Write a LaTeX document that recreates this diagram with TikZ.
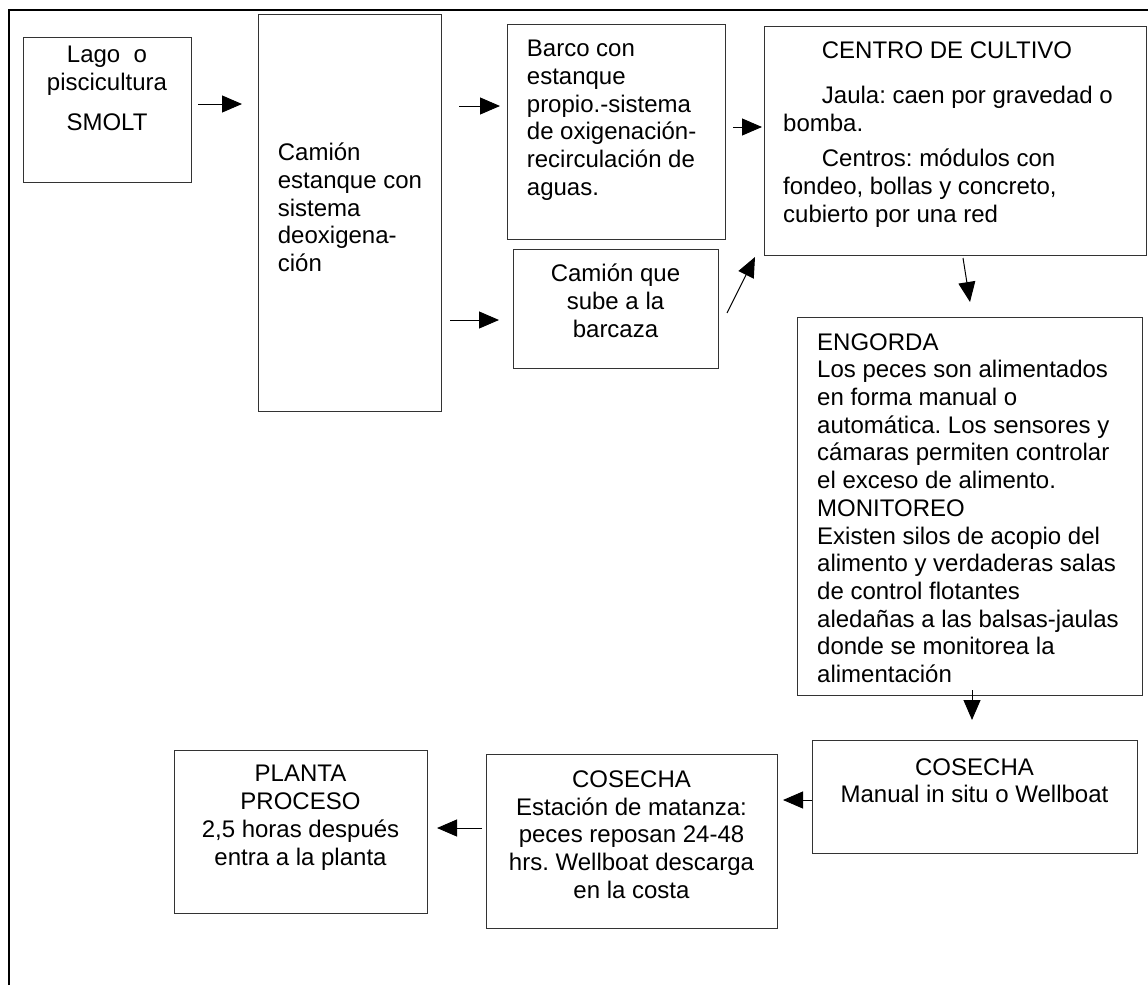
\documentclass[tikz,border=0pt]{standalone}
\usepackage{fontspec}
\setmainfont{Liberation Sans}
\usetikzlibrary{arrows.meta}
\frenchspacing
\begin{document}
\begin{tikzpicture}[x=1pt,y=-1pt,
  box/.style={draw=black!80, line width=1.1pt, inner sep=0pt, anchor=north west},
  txt/.style={inner sep=0pt, anchor=north, font=\fontsize{24pt}{27.7pt}\selectfont},
  txtl/.style={txt, anchor=north west, align=left},
  txtc/.style={txt, anchor=north, align=center},
  arr/.style={line width=1pt, -{Triangle[length=20pt,width=17pt]}},
  framestyle/.style={line width=2.4pt}]
\useasboundingbox (0,0) rectangle (1148,985);
% outer frame
\coordinate (fbl) at (9,985);
\coordinate (ftl) at (9,10);
\coordinate (ftr) at (1148,10);
\draw[framestyle] (fbl) -- (ftl) -- (ftr);

% boxes
\node[box, minimum width=168pt, minimum height=145pt] (smolt) at (23,37) {};
\node[box, minimum width=183pt, minimum height=397pt] (camion) at (258,14) {};
\node[box, minimum width=218pt, minimum height=215pt] (barco) at (507,24) {};
\node[box, minimum width=205pt, minimum height=119pt] (barcaza) at (513,249) {};
\node[box, minimum width=382pt, minimum height=229pt] (centro) at (764,26) {};
\node[box, minimum width=345pt, minimum height=378pt] (engorda) at (797,317) {};
\node[box, minimum width=325pt, minimum height=113pt] (cosecha1) at (812,740) {};
\node[box, minimum width=291pt, minimum height=174pt] (cosecha2) at (486,754) {};
\node[box, minimum width=253pt, minimum height=163pt] (planta) at (174,750) {};

% texts
\node[txtc] (tsmolt) at (107,42.9) {\strut Lago\ \ o\\piscicultura\\[12.3pt]SMOLT};
\node[txtl] (tcamion) at (277.7,141.3) {\strut Camión\\estanque con\\sistema\\deoxigena-\\ción};
\node[txtl] (tbarco) at (526.7,37.3) {\strut Barco con\\estanque\\propio.-sistema\\de oxigenación-\\recirculación de\\aguas.};
\node[txtc] (tbarcaza) at (615.5,262.3) {\strut Camión que\\sube a la\\barcaza};
\node[txtl] (tcentro) at (783,38.6) {\strut\hspace*{38.7pt}CENTRO DE CULTIVO\\[17.6pt]
\hspace*{38.7pt}Jaula: caen por gravedad o\\
bomba.\\[8pt]
\hspace*{38.7pt}Centros: módulos con\\
fondeo, bollas y concreto,\\
cubierto por una red};
\node[txtl] (tengorda) at (817,330.6) {\strut ENGORDA\\
Los peces son alimentados\\
en forma manual o\\
automática. Los sensores y\\
cámaras permiten controlar\\
el exceso de alimento.\\
MONITOREO\\
Existen silos de acopio del\\
alimento y verdaderas salas\\
de control flotantes\\
aledañas a las balsas-jaulas\\
donde se monitorea la\\
alimentación};
\node[txtc] (tcosecha1) at (974.5,755.6) {\strut COSECHA\\Manual in situ o Wellboat};
\node[txtc] (tcosecha2) at (631.5,767.9) {\strut COSECHA\\Estación de matanza:\\peces reposan 24-48\\hrs. Wellboat descarga\\en la costa};
\node[txtc] (tplanta) at (300.5,762.3) {\strut PLANTA\\PROCESO\\2,5 horas después\\entra a la planta};

% arrow end points
\coordinate (a1s) at (198,104);  \coordinate (a1e) at (242,104);
\coordinate (a2s) at (459,106);  \coordinate (a2e) at (500,106);
\coordinate (a3s) at (450,320);  \coordinate (a3e) at (499,320);
\coordinate (a4s) at (733,127);  \coordinate (a4e) at (762,127);
\coordinate (a5s) at (727,313);  \coordinate (a5e) at (755,257);
\coordinate (a6s) at (963,258);  \coordinate (a6e) at (970,302);
\coordinate (a7s) at (972,690);  \coordinate (a7e) at (972,720);
\coordinate (a8s) at (812,800);  \coordinate (a8e) at (783,800);
\coordinate (a9s) at (482,828);  \coordinate (a9e) at (437,828);

\draw[arr] (a1s) -- (a1e);
\draw[arr] (a2s) -- (a2e);
\draw[arr] (a3s) -- (a3e);
\draw[arr] (a4s) -- (a4e);
\draw[arr] (a5s) -- (a5e);
\draw[arr] (a6s) -- (a6e);
\draw[arr] (a7s) -- (a7e);
\draw[arr] (a8s) -- (a8e);
\draw[arr] (a9s) -- (a9e);
\end{tikzpicture}
\end{document}
